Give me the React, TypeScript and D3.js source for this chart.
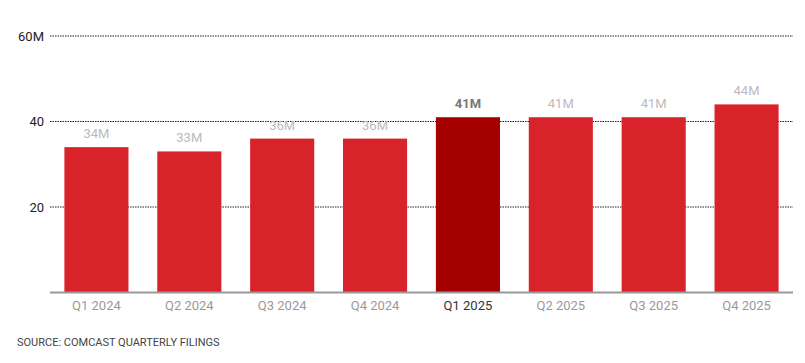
import React from "react";
import * as d3 from "d3";

const categories = ["Q1 2024", "Q2 2024", "Q3 2024", "Q4 2024", "Q1 2025", "Q2 2025", "Q3 2025", "Q4 2025"];
const values = [34, 33, 36, 36, 41, 41, 41, 44];
const highlight = "Q1 2025";
const yTicks = [20, 40, 60];

const W = 805, H = 363;
const left = 50, right = 793, top = 36, bottom = 292.5;

export default function App() {
  const x = d3.scaleBand<string>().domain(categories).range([left, right]).paddingInner(0.31).paddingOuter(0.155);
  const y = d3.scaleLinear().domain([0, 60]).range([bottom, top]);
  const font = "Roboto, 'Noto Sans', sans-serif";
  return (
    <svg width={W} height={H} style={{ position: "absolute", left: 0, top: 0 }} fontFamily={font}>
      {yTicks.map((t) => (
        <g key={t}>
          <line x1={left} x2={right} y1={y(t)} y2={y(t)} stroke="#222" strokeWidth={1} strokeDasharray="1.5,1" />
          <text x={44} y={y(t)} dy="0.35em" textAnchor="end" fontSize={13} fill="#222">
            {t === 60 ? "60M" : t}
          </text>
        </g>
      ))}
      {categories.map((c, i) => {
        const hl = c === highlight;
        return (
          <g key={c}>
            <rect x={x(c)} y={y(values[i])} width={x.bandwidth()} height={bottom - y(values[i])} fill={hl ? "#a50000" : "#d9232a"} />
            <text x={x(c)! + x.bandwidth() / 2} y={y(values[i]) - 9} textAnchor="middle" fontSize={13} fontWeight={hl ? 700 : 400} fill={hl ? "#777" : "#bbb"}>
              {values[i]}M
            </text>
            <text x={x(c)! + x.bandwidth() / 2} y={bottom + 17} textAnchor="middle" fontSize={13} fill={hl ? "#333" : "#999"}>
              {c}
            </text>
          </g>
        );
      })}
      <line x1={left} x2={right} y1={bottom} y2={bottom} stroke="#999" strokeWidth={2} />
      <text x={17} y={346} fontSize={11} fill="#444">SOURCE: COMCAST QUARTERLY FILINGS</text>
    </svg>
  );
}
